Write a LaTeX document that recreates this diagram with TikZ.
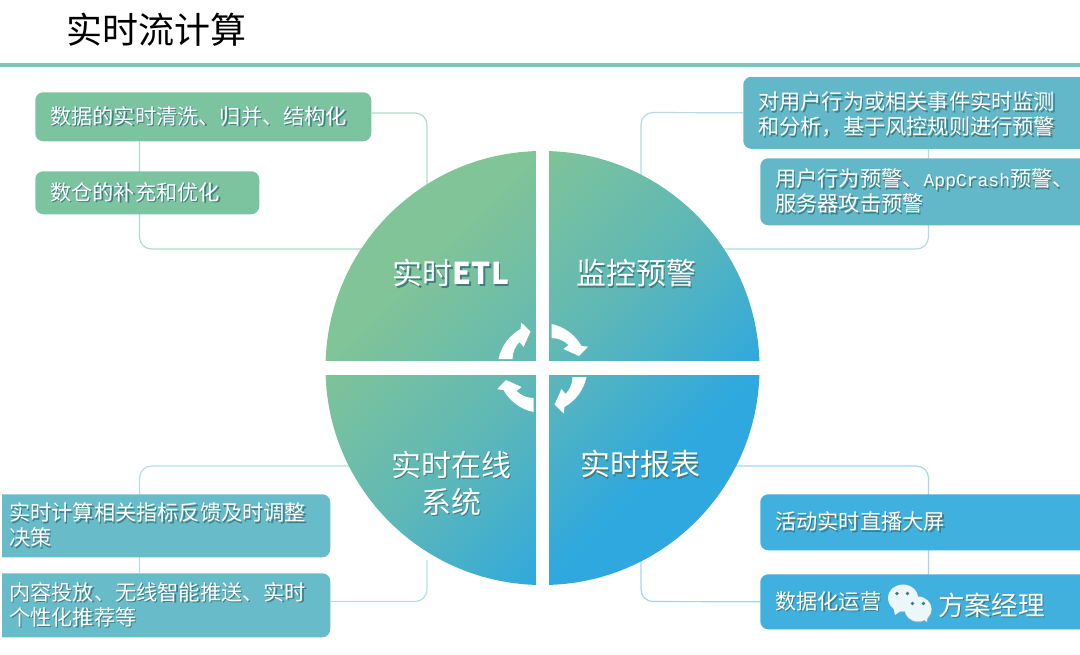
\documentclass[tikz,border=0pt]{standalone}
\usepackage{fontspec}
\setmainfont{Noto Sans CJK SC}
\newfontfamily\appfont{Liberation Mono}
\usetikzlibrary{backgrounds}
\definecolor{etlgreen}{HTML}{7CC3A0}
\definecolor{alertteal}{HTML}{62B8C8}
\definecolor{onlineteal}{HTML}{68BCC9}
\definecolor{reportblue}{HTML}{40B0DE}
\definecolor{ruleteal}{HTML}{7FC4B8}
\definecolor{shadowtone}{HTML}{3F7D80}
\definecolor{piegreen}{HTML}{80C497}
\definecolor{piemid}{HTML}{5FB8B6}
\definecolor{pieblue}{HTML}{2EA8DF}
\pgfdeclarehorizontalshading{pieshade}{100bp}{color(0bp)=(piegreen); color(32bp)=(piegreen); color(50bp)=(piemid); color(68bp)=(pieblue); color(100bp)=(pieblue)}
\newcommand{\shtext}[1]{\makebox[0pt][l]{\kern1pt\raisebox{-1pt}{\textcolor{shadowtone}{#1}}}#1}
\newcommand{\apptext}{{\appfont\fontsize{13.5pt}{18pt}\selectfont AppCrash}}
\def\px{0.75pt}
\tikzset{
  infobox/.style 2 args={anchor=north west, rounded corners=6pt, inner xsep=15*\px, inner ysep=0pt,
    text=white, align=left, text width=(#1-30)*\px, minimum height=#2*\px,
    font=\fontsize{15.9pt}{18.75pt}\selectfont},
  link/.style={line width=0.9pt, rounded corners=9pt},
  pielabel/.style={text=white, align=center, font=\fontsize{22.5pt}{28pt}\selectfont}
}
\begin{document}
\begin{tikzpicture}[x=0.75pt, y=-0.75pt]
  \useasboundingbox (0, 0) rectangle (1080, 654);
  \pgfmathsetmacro{\cx}{542.5}
  \pgfmathsetmacro{\cy}{368}
  \pgfmathsetmacro{\rad}{217}

  \node[anchor=west, font=\fontsize{27pt}{30pt}\selectfont, inner sep=0pt] (title) at (66, 30) {实时流计算};
  \coordinate (ruleL) at (0, 65);
  \coordinate (ruleR) at (1080, 65);
  \draw[ruleteal, line width=2.6pt] (ruleL) -- (ruleR);

  % boxes
  \node[infobox={336}{49}, fill=etlgreen] (cleanbox) at (35, 92) {\shtext{数据的实时清洗、归并、结构化}};
  \node[infobox={224}{43}, fill=etlgreen] (dwbox) at (35, 171) {\shtext{数仓的补充和优化}};
  \node[infobox={347}{72}, fill=alertteal] (monitorbox) at (743, 76.5) {\rule{0pt}{17pt}\shtext{对用户行为或相关事件实时监测}\\\shtext{和分析，基于风控规则进行预警}};
  \node[infobox={330}{67}, fill=alertteal] (warnbox) at (760, 158) {\shtext{用户行为预警、\apptext 预警、}\\\shtext{服务器攻击预警}};
  \node[infobox={330}{56}, fill=reportblue] (screenbox) at (760, 494) {\shtext{活动实时直播大屏}};
  \node[infobox={330}{55}, fill=reportblue] (opsbox) at (760, 574) {\shtext{数据化运营}};
  \node[infobox={336}{63}, fill=onlineteal] (feedbox) at (-6, 494) {\shtext{实时计算相关指标反馈及时调整}\\\shtext{决策}};
  \node[infobox={336}{64}, fill=onlineteal] (pushbox) at (-6, 573) {\shtext{内容投放、无线智能推送、实时}\\\shtext{个性化推荐等}};
  \fill[white] (0, 480) rectangle (2, 645);

  % connectors
  \coordinate (etlA) at (427, 113);
  \coordinate (etlB) at (427, 200);
  \coordinate (etlC) at (139.5, 249);
  \coordinate (etlD) at (380, 249);
  \coordinate (alertA) at (641, 112.5);
  \coordinate (alertB) at (641, 190);
  \coordinate (alertC) at (928.5, 249);
  \coordinate (alertD) at (705, 249);
  \coordinate (reportA) at (928.5, 466);
  \coordinate (reportB) at (705, 466);
  \coordinate (reportC) at (641, 601.5);
  \coordinate (reportD) at (641, 560);
  \coordinate (onlineA) at (139.5, 466);
  \coordinate (onlineB) at (380, 466);
  \coordinate (onlineC) at (427, 601.5);
  \coordinate (onlineD) at (427, 560);
  \begin{scope}[on background layer]
    \draw[link, etlgreen!60] (etlA -| cleanbox.east) -- (etlA) -- (etlB);
    \draw[link, etlgreen!60] (etlC |- cleanbox.south) -- (etlC) -- (etlD);
    \draw[link, alertteal!50] (monitorbox.west) -- (alertA) -- (alertB);
    \draw[link, alertteal!50] (alertC |- monitorbox.south) -- (alertC) -- (alertD);
    \draw[link, reportblue!50] (reportA |- opsbox.north) -- (reportA) -- (reportB);
    \draw[link, reportblue!50] (opsbox.west) -- (reportC) -- (reportD);
    \draw[link, onlineteal!50] (onlineA |- pushbox.north) -- (onlineA) -- (onlineB);
    \draw[link, onlineteal!50] (onlineC -| pushbox.east) -- (onlineC) -- (onlineD);
  \end{scope}

  % pie
  \shade[shading=pieshade, shading angle=-45] (\cx, \cy) circle [radius=\rad];
  \fill[white] (\cx-6.5, \cy-\rad-2) rectangle (\cx+6.5, \cy+\rad+2);
  \fill[white] (\cx-\rad-2, \cy-7) rectangle (\cx+\rad+2, \cy+7);
  \foreach \ang in {0, -90, -180, -270} {
    \fill[white, shift={(\cx, \cy)}, rotate=\ang]
      (9, -44) .. controls (21.7, -41.4) and (32.6, -33.3) .. (39, -22) -- (45.5, -21.3) -- (36.5, -12)
      -- (21, -19) -- (26, -23) .. controls (22, -27) and (16, -30) .. (9, -30) -- cycle;
  }
  \node[pielabel] (etllabel) at (451, 274) {\shtext{实时{\bfseries ETL}}};
  \node[pielabel] (alertlabel) at (636, 274) {\shtext{监控预警}};
  \node[pielabel] (reportlabel) at (640.5, 465) {\shtext{实时报表}};
  \node[pielabel] (onlinelabel) at (451, 484) {\shtext{实时在线}\\\shtext{系统}};

  % watermark
  \fill[shadowtone!60] (903.5, 599) ellipse [x radius=15, y radius=13.5];
  \fill[white!90!reportblue] (903, 598) ellipse [x radius=15, y radius=13.5];
  \fill[white!90!reportblue] (893, 606) -- (895, 615) -- (902, 610) -- cycle;
  \fill[shadowtone!60] (918.5, 610) ellipse [x radius=13.5, y radius=12.5];
  \fill[white!90!reportblue] (918, 609) ellipse [x radius=13.5, y radius=12.5];
  \fill[white!90!reportblue] (922, 618) -- (927, 622) -- (928, 612) -- cycle;
  \foreach \ex/\ey in {897/593.5, 907.5/593.5, 912.5/603.5, 923.5/603.5} {
    \fill[shadowtone] (\ex, \ey) circle [radius=1.8];
  }
  \node[anchor=west, text=white, inner sep=0pt, font=\fontsize{20pt}{24pt}\selectfont] (brand) at (938, 606) {\shtext{方案经理}};
\end{tikzpicture}
\end{document}
